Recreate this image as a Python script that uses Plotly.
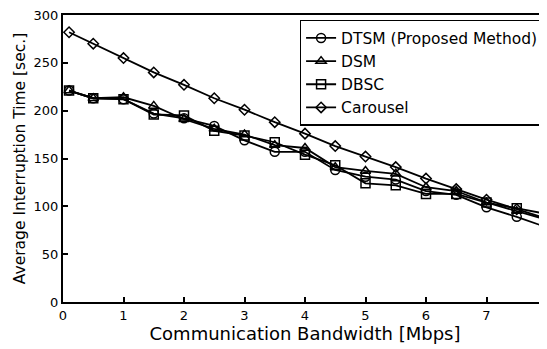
import plotly.graph_objects as go

bandwidth = [0.1, 0.5, 1, 1.5, 2, 2.5, 3, 3.5, 4, 4.5, 5, 5.5, 6, 6.5, 7, 7.5, 8]
dtsm = [221, 213, 212, 197, 192, 184, 169, 157, 157, 138, 131, 128, 116, 112, 99, 89, 78]
dsm = [221, 213, 214, 205, 191, 181, 175, 164, 161, 141, 137, 134, 120, 116, 104, 95, 86]
dbsc = [221, 213, 212, 196, 195, 179, 174, 167, 154, 143, 124, 122, 113, 113, 104, 98, 92]
carousel = [282, 270, 255, 240, 227, 213, 201, 188, 176, 163, 152, 141, 129, 118, 107, 97, 87]

series = [
    ("DTSM (Proposed Method)", dtsm, "circle-open", 9),
    ("DSM", dsm, "triangle-up-open", 9),
    ("DBSC", dbsc, "square-open", 9),
    ("Carousel", carousel, "diamond-open", 8),
]

font_family = "DejaVu Sans, Liberation Sans, sans-serif"

fig = go.Figure()
for name, vals, sym, sz in series:
    fig.add_trace(go.Scatter(
        x=bandwidth, y=vals, name=name, mode="lines+markers",
        line=dict(color="black", width=1.8),
        marker=dict(symbol=sym, size=sz, color="black", line=dict(width=1.5, color="black")),
        cliponaxis=False,
    ))

# page body has an 8px margin: figure is sized/shifted to compensate
fig.update_layout(
    width=539, height=341,
    margin=dict(l=55, r=0, t=7, b=47, autoexpand=False),
    paper_bgcolor="white", plot_bgcolor="white",
    font=dict(family=font_family, color="black", size=13),
    showlegend=True,
    legend=dict(
        x=0.995, y=0.983, xanchor="right", yanchor="top",
        bordercolor="black", borderwidth=1.5, bgcolor="white",
        font=dict(size=15.5, family=font_family),
        itemwidth=30, tracegroupgap=0,
    ),
)
fig.update_xaxes(
    range=[0, 8], dtick=1, tick0=0, automargin=False, ticklabeloverflow="allow",
    showline=True, linecolor="black", linewidth=2, mirror=True,
    ticks="inside", ticklen=5, tickcolor="black", tickwidth=1.5,
    showgrid=False, zeroline=False,
    title=dict(text="Communication Bandwidth [Mbps]", font=dict(size=18), standoff=2),
    tickfont=dict(size=13),
)
fig.update_yaxes(
    range=[0, 300], dtick=50, tick0=0, automargin=False, ticklabeloverflow="allow",
    showline=True, linecolor="black", linewidth=2, mirror=True,
    ticks="inside", ticklen=5, tickcolor="black", tickwidth=1.5,
    showgrid=False, zeroline=False,
    title=dict(text="Average Interruption Time [sec.]", font=dict(size=15.5), standoff=4),
    tickfont=dict(size=13),
)

fig.write_html("out.html")
